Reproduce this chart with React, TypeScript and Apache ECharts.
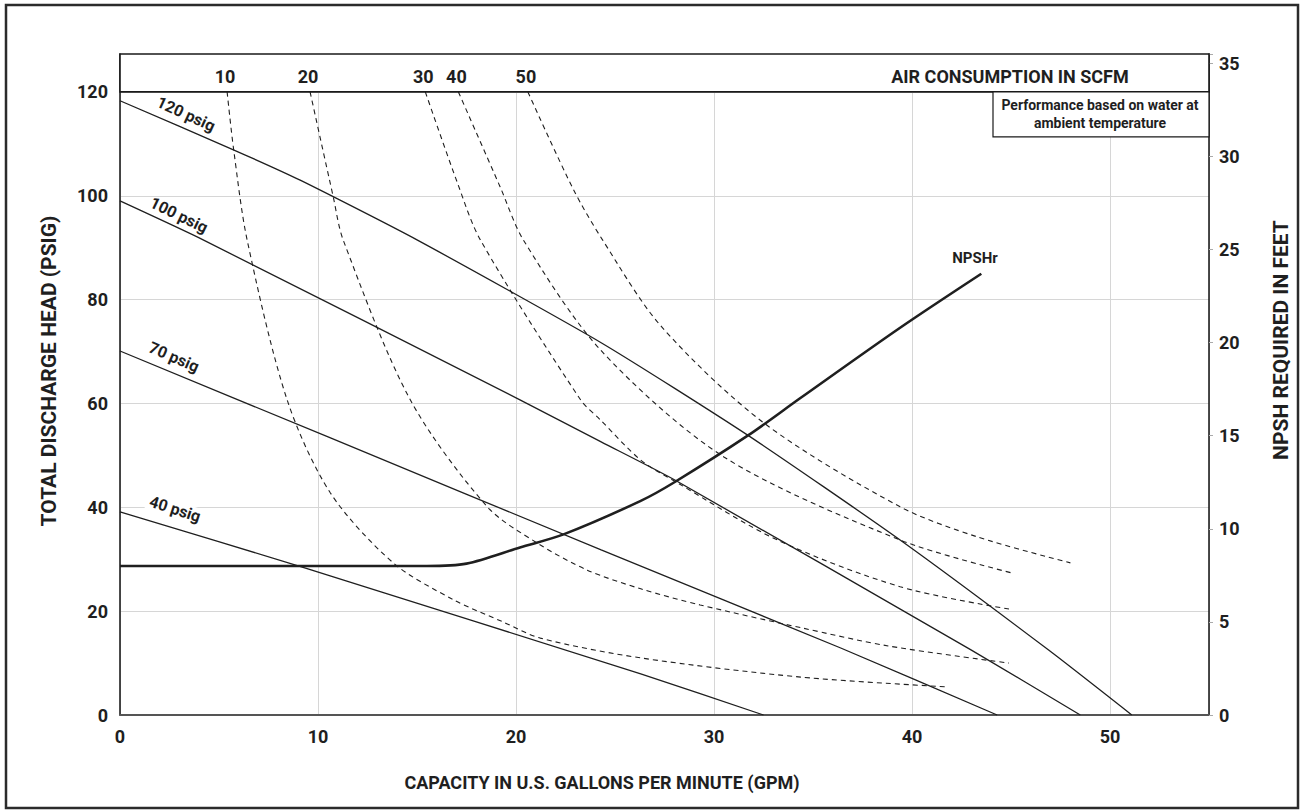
import React, { useEffect, useRef } from "react";
import * as echarts from "echarts";

// ---------- data ----------
const xTickValues = [0, 10, 20, 30, 40, 50];
const leftTickValues = [0, 20, 40, 60, 80, 100, 120];
const rightTickValues = [0, 5, 10, 15, 20, 25, 30, 35];

// pressure lines: [gpm, psig]
const psig120: number[][] = [[0, 118.3], [5.7, 108.9], [9.1, 103.0], [15.0, 91.5], [24.3, 71.7], [31.7, 53.9], [39.4, 33.7], [46.9, 12.5], [51.1, 0]];
const psig100: number[][] = [[0, 99.0], [4.2, 91.5], [20.2, 60.7], [24.3, 52.6], [28.0, 45.3], [43.0, 12.5], [48.5, 0]];
const psig70: number[][] = [[0, 70.1], [10.6, 53.4], [24.3, 31.8], [36.4, 12.9], [44.3, 0]];
const psig40: number[][] = [[0, 39.1], [9.45, 28.2], [26.3, 7.9], [32.5, 0]];

// air consumption curves (SCFM): [gpm, psig]
const scfm10: number[][] = [[5.41, 120], [5.74, 108.9], [6.42, 91.5], [8.44, 60.7], [10.62, 42.8], [13.8, 29.3], [16.84, 22.2], [19.36, 17.9], [21.23, 14.8], [26.29, 11.0], [34.38, 7.3], [41.86, 5.4]];
const scfm20: number[][] = [[9.6, 120], [10.77, 99.8], [11.27, 91.5], [14.66, 60.7], [18.55, 40.1], [21.08, 33.1], [23.6, 27.9], [26.3, 24.3], [29.3, 21.2], [34.4, 16.8], [38.8, 13.3], [44.9, 10.0]];
const scfm30: number[][] = [[15.42, 120], [17.04, 102.5], [18.2, 91.5], [23.26, 60.7], [24.27, 56.8], [26.3, 49.1], [28.16, 44.7], [33.2, 33.7], [39.4, 24.7], [44.9, 20.4]];
const scfm40: number[][] = [[17.09, 120], [19.2, 101.7], [20.37, 91.5], [24.27, 70.3], [30.5, 49.7], [39.4, 33.7], [45.0, 27.4]];
const scfm50: number[][] = [[20.6, 120], [22.9, 101.2], [24.37, 91.5], [27.3, 75.0], [32.5, 56.3], [39.4, 40.1], [43.3, 34.3], [48.0, 29.3]];
const scfmLabels = ["10", "20", "30", "40", "50"];
const scfmCurves = [scfm10, scfm20, scfm30, scfm40, scfm50];

// NPSH required: [gpm, feet]
const npshr: number[][] = [[0, 8.0], [15.5, 8.0], [17.5, 8.13], [20.2, 9.0], [22.4, 9.7], [26.3, 11.5], [28.0, 12.5], [31.7, 15.0], [34.4, 17.05], [39.4, 20.8], [43.5, 23.7]];

const psigLabels = ["120 psig", "100 psig", "70 psig", "40 psig"];

const FONT = "Roboto, 'Noto Sans', sans-serif";
const INK = "#1f1f1f";

export default function App() {
  const ref = useRef<HTMLDivElement>(null);

  useEffect(() => {
    document.body.style.margin = "0";
    const el = ref.current!;
    const chart = echarts.init(el, undefined, { renderer: "svg" });

    const solid = (data: number[][]) => ({
      type: "line",
      data,
      showSymbol: false,
      smooth: 0.2,
      lineStyle: { color: INK, width: 1.3 },
      silent: true,
      z: 3,
    });
    const dashed = (data: number[][]) => ({
      type: "line",
      data,
      showSymbol: false,
      smooth: 0.3,
      lineStyle: { color: INK, width: 1.1, type: [5, 4] },
      silent: true,
      z: 3,
    });

    const option: any = {
      animation: false,
      backgroundColor: "#ffffff",
      grid: { left: 120, top: 54, width: 1089, height: 661, containLabel: false },
      xAxis: {
        type: "value",
        min: 0,
        max: 55,
        interval: 10,
        axisLine: { show: true, lineStyle: { color: "#555", width: 2 } },
        axisTick: { show: false },
        axisLabel: {
          margin: 12,
          fontFamily: FONT,
          fontSize: 18,
          fontWeight: "bold",
          color: INK,
          formatter: (v: number) => (xTickValues.includes(v) ? String(v) : ""),
        },
        splitLine: { show: true, lineStyle: { color: "#d6d6d6", width: 1 } },
      },
      yAxis: [
        {
          type: "value",
          min: 0,
          max: 127.3,
          interval: 20,
          position: "left",
          axisLine: { show: true, lineStyle: { color: "#111", width: 1.5 } },
          axisTick: { show: false },
          axisLabel: {
            margin: 12,
            fontFamily: FONT,
            fontSize: 18,
            fontWeight: "bold",
            color: INK,
            formatter: (v: number) => (leftTickValues.includes(v) ? String(v) : ""),
          },
          splitLine: { show: true, lineStyle: { color: "#d6d6d6", width: 1 } },
        },
        {
          type: "value",
          min: 0,
          max: 35.5,
          interval: 5,
          position: "right",
          axisLine: { show: true, lineStyle: { color: "#111", width: 1.5 } },
          axisTick: { show: true, length: 4, lineStyle: { color: "#aaa" } },
          axisLabel: {
            margin: 10,
            fontFamily: FONT,
            fontSize: 18,
            fontWeight: "bold",
            color: INK,
            formatter: (v: number) => (rightTickValues.includes(v) ? String(v) : ""),
          },
          splitLine: { show: false },
        },
      ],
      series: [
        solid(psig120),
        solid(psig100),
        solid(psig70),
        solid(psig40),
        ...scfmCurves.map(dashed),
        {
          type: "line",
          yAxisIndex: 1,
          data: npshr,
          showSymbol: false,
          smooth: 0.3,
          lineStyle: { color: INK, width: 2.6 },
          silent: true,
          z: 4,
        },
      ],
    };
    chart.setOption(option);

    const px = (x: number, y: number) => chart.convertToPixel({ gridIndex: 0 }, [x, y]) as number[];
    const topLeft = px(0, 127.3);
    const bottomRight = px(55, 0);
    const headerBottom = px(0, 120)[1];
    const gx = topLeft[0];
    const gy = topLeft[1];
    const gw = bottomRight[0] - gx;

    const txt = (x: number, y: number, text: string, size: number, extra: any = {}) => ({
      type: "text",
      x,
      y,
      z: 101,
      style: {
        text,
        fontFamily: FONT,
        fontSize: size,
        fontWeight: "bold",
        fill: INK,
        align: "center",
        verticalAlign: "middle",
        ...(extra.style || {}),
      },
      ...(extra.el || {}),
    });

    const labelPos = [
      [186, 114, -0.43],
      [179, 215, -0.45],
      [174, 357, -0.41],
      [175, 509, -0.31],
    ];

    const elements: any[] = [
      // outer frame
      {
        type: "rect",
        z: 100,
        shape: { x: 6, y: 5, width: 1292, height: 803 },
        style: { fill: "none", stroke: "#2b2b2b", lineWidth: 2.5 },
      },
      // header band
      {
        type: "rect",
        z: 100,
        shape: { x: gx, y: gy, width: gw, height: headerBottom - gy },
        style: { fill: "#ffffff", stroke: "#1a1a1a", lineWidth: 1.6 },
      },
      txt(1010, 76, "AIR CONSUMPTION IN SCFM", 18),
      // performance note
      {
        type: "rect",
        z: 100,
        shape: { x: 993, y: headerBottom, width: gx + gw - 993, height: 45 },
        style: { fill: "#ffffff", stroke: "#1a1a1a", lineWidth: 1.2 },
      },
      txt(1100, 105, "Performance based on water at", 14),
      txt(1100, 123, "ambient temperature", 14),
      // axis names
      txt(49, 371, "TOTAL DISCHARGE HEAD (PSIG)", 21, { el: { rotation: Math.PI / 2 } }),
      txt(1281, 340, "NPSH REQUIRED IN FEET", 21, { el: { rotation: Math.PI / 2 } }),
      txt(602, 782, "CAPACITY IN U.S. GALLONS PER MINUTE (GPM)", 18),
      // NPSHr label
      txt(975, 258, "NPSHr", 15),
    ];

    scfmCurves.forEach((c, i) => {
      const p = px(c[0][0], c[0][1]);
      elements.push(txt(p[0] - 2, 76, scfmLabels[i], 18));
    });

    psigLabels.forEach((t, i) => {
      const [x, y, r] = labelPos[i];
      elements.push(
        txt(x, y, t, 16, {
          el: { rotation: r },
          style: i === 3 ? { backgroundColor: "#ffffff", padding: [0, 3] } : {},
        })
      );
    });

    chart.setOption({ graphic: { elements } });

    return () => chart.dispose();
  }, []);

  return <div ref={ref} style={{ width: 1303, height: 810 }} />;
}
